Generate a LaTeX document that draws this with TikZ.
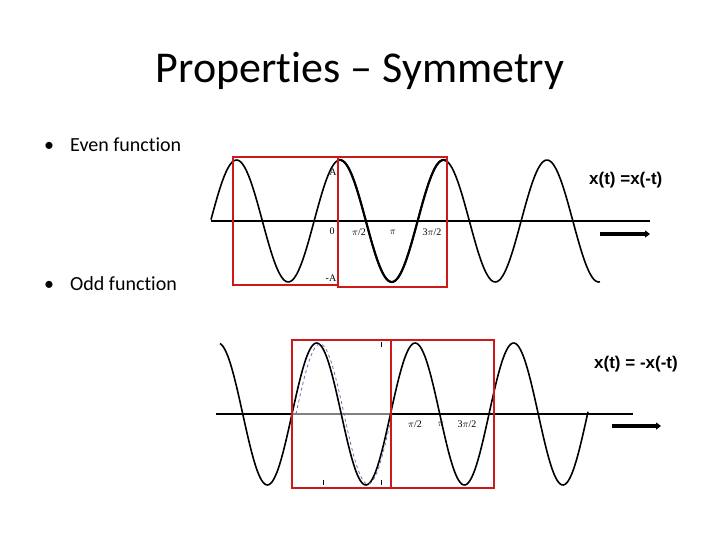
\documentclass[tikz,border=0pt]{standalone}
\usepackage{fontspec}
\setmainfont{Carlito}[Ligatures=NoCommon]
\newfontfamily\tickfont{Liberation Serif}
\newfontfamily\eqfont{Liberation Sans}
\usepackage{tikz}
\usetikzlibrary{arrows.meta}
\definecolor{boxred}{RGB}{205,25,25}
\definecolor{dashblue}{RGB}{110,110,170}
\tikzset{every node/.style={inner sep=0pt},
    titletext/.style={font=\fontsize{44}{48}\selectfont},
    bullettext/.style={font=\fontsize{20}{24}\selectfont, anchor=base west},
    eqtext/.style={font=\eqfont\bfseries\fontsize{17}{20}\selectfont, anchor=west},
    ticklabel/.style={font=\tickfont\fontsize{10}{11}\selectfont},
    wave/.style={line width=1.6pt, smooth},
    axisline/.style={line width=1.2pt},
    redbox/.style={draw=boxred, line width=2.8pt},
    timearrow/.style={line width=3.5pt, -{Triangle[length=5pt, width=7pt]}}}

\begin{document}
\begin{tikzpicture}[x=1pt, y=-1pt]
    \useasboundingbox (0,0) rectangle (720,540);
    \node[titletext, anchor=base] (title) at (360,83) {Properties – Symmetry};
    \node[bullettext] (evenbullet) at (44,152) {•};
    \node[bullettext] (even) at (70,152) {Even function};
    \node[bullettext] (oddbullet) at (44,290) {•};
    \node[bullettext] (odd) at (70,290) {Odd function};

    % even: cosine, period 103.5
    \draw[axisline] (211,221) -- (650,221);
    \draw[wave] plot[domain=211:600, samples=240] (\x, {221 - 61*cos(3.4783*(\x-340))});
    \draw[wave, line width=2.2pt] plot[domain=339:446, samples=80] (\x, {221 - 61*cos(3.4783*(\x-340))});
    \node[ticklabel] (amax) at (333,172) {A};
    \node[ticklabel] (zero) at (332,231) {0};
    \node[ticklabel] (evenhalfpi) at (359,232) {$\pi$/2};
    \node[ticklabel] (evenpi) at (393,232) {$\pi$};
    \node[ticklabel] (eventhreehalfpi) at (432,232) {3$\pi$/2};
    \node[ticklabel] (amin) at (331,278) {-A};
    \draw[redbox] (233,157) rectangle (338,285);
    \draw[redbox] (338,157) rectangle (447,287);
    \node[eqtext] (eveneq) at (589,180) {x(t) =x(-t)};
    \coordinate (evenstart) at (600,234);
    \coordinate (evenend) at (650,234);
    \draw[timearrow] (evenstart) -- (evenend);

    % odd: sine, period 98.5
    \draw[axisline, line width=2pt] (216,414) -- (633,414);
    \draw[gray, line width=1.2pt] (292,414) -- (390,414);
    \draw[wave] plot[domain=220:588, samples=240] (\x, {414 - 71*sin(3.6548*(\x-292))});
    \draw[dashblue, dashed, line width=0.8pt, smooth] plot[domain=296:392, samples=80] (\x, {414 - 70*sin(3.75*(\x-296))});
    \draw[line width=0.6pt] (323,480) -- (323,485) (381,480) -- (381,485) (381,342) -- (381,347);
    \node[ticklabel] (oddhalfpi) at (415,424) {$\pi$/2};
    \node[ticklabel] (oddpi) at (441,424) {$\pi$};
    \node[ticklabel] (oddthreehalfpi) at (467,424) {3$\pi$/2};
    \draw[redbox] (292,340) rectangle (391,488);
    \draw[redbox] (391,340) rectangle (494,488);
    \node[eqtext] (oddeq) at (594,364) {x(t) = -x(-t)};
    \coordinate (oddstart) at (612,426);
    \coordinate (oddend) at (661,426);
    \draw[timearrow] (oddstart) -- (oddend);
\end{tikzpicture}
\end{document}
